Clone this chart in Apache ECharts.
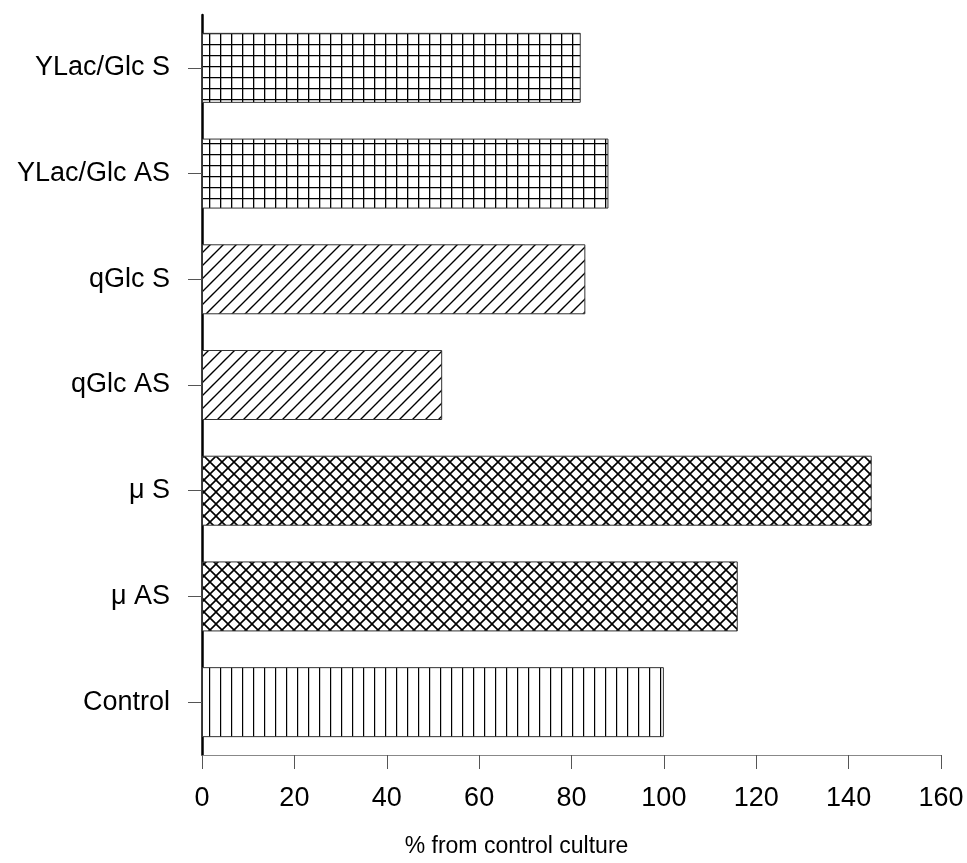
<!DOCTYPE html>
<html>
<head>
<meta charset="utf-8">
<script src="https://cdn.jsdelivr.net/npm/echarts@6/dist/echarts.min.js"></script>
<style>
  html, body { margin: 0; padding: 0; background: #fff; }
  #main { width: 967px; height: 863px; }
</style>
</head>
<body>
<div id="main"></div>
<script>
// data
var categories = ['Control', 'μ AS', 'μ S', 'qGlc AS', 'qGlc S', 'YLac/Glc AS', 'YLac/Glc S']
var values = [100, 116, 145, 52, 83, 88, 82]
var patterns = ['vertical', 'cross', 'cross', 'diag', 'diag', 'grid', 'grid']
var xTicks = [0, 20, 40, 60, 80, 100, 120, 140, 160]

// hatch fills drawn on small canvases
function makePattern(kind) {
  var c = document.createElement('canvas')
  var ctx = c.getContext('2d')
  var s = 11
  if (kind === 'diag') s = 13
  if (kind === 'cross') s = 12
  c.width = s
  c.height = kind === 'vertical' ? 1 : s
  ctx.fillStyle = '#fff'
  ctx.fillRect(0, 0, c.width, c.height)
  ctx.strokeStyle = '#000'
  ctx.lineWidth = 1.4
  ctx.beginPath()
  if (kind === 'vertical') {
    ctx.moveTo(0.5, 0); ctx.lineTo(0.5, 1)
  } else if (kind === 'grid') {
    ctx.lineWidth = 1.6
    ctx.moveTo(0.5, 0); ctx.lineTo(0.5, s)
    ctx.moveTo(0, 0.5); ctx.lineTo(s, 0.5)
  } else if (kind === 'diag') {
    ctx.moveTo(-2, s + 2); ctx.lineTo(s + 2, -2)
    ctx.moveTo(-2, 2); ctx.lineTo(2, -2)
    ctx.moveTo(s - 2, s + 2); ctx.lineTo(s + 2, s - 2)
  } else if (kind === 'cross') {
    ctx.lineWidth = 1.6
    ctx.moveTo(-1, s + 1); ctx.lineTo(s + 1, -1)
    ctx.moveTo(-1, -1); ctx.lineTo(s + 1, s + 1)
  }
  ctx.stroke()
  return { image: c, repeat: 'repeat' }
}

var barData = values.map(function (v, i) {
  return {
    value: v,
    itemStyle: { color: makePattern(patterns[i]) }
  }
})

var chart = echarts.init(document.getElementById('main'))
var option = {
  animation: false,
  backgroundColor: '#fff',
  grid: { left: 202, right: 26, top: 15, bottom: 108, outerBoundsMode: 'none', containLabel: false },
  xAxis: {
    type: 'value',
    min: xTicks[0],
    max: xTicks[xTicks.length - 1],
    interval: 20,
    name: '% from control culture',
    nameLocation: 'middle',
    nameGap: 80,
    nameTextStyle: { fontFamily: 'Liberation Sans', fontSize: 23, color: '#000', padding: [0, 110, 0, 0] },
    axisLine: { show: true, lineStyle: { color: '#888', width: 1 } },
    axisTick: { show: true, length: 14, lineStyle: { color: '#555', width: 1 } },
    axisLabel: { fontFamily: 'Liberation Sans', fontSize: 27, color: '#000', margin: 30 },
    splitLine: { show: false }
  },
  yAxis: {
    type: 'category',
    data: categories,
    axisLine: { show: true, lineStyle: { color: '#000', width: 2.5 } },
    axisTick: { show: true, alignWithLabel: true, length: 14, lineStyle: { color: '#555', width: 1 } },
    axisLabel: { fontFamily: 'Liberation Sans', fontSize: 27, color: '#000', margin: 32 }
  },
  series: [
    {
      type: 'bar',
      data: barData,
      barWidth: 70,
      itemStyle: { borderColor: '#333', borderWidth: 1 }
    }
  ]
}
chart.setOption(option)
</script>
</body>
</html>
